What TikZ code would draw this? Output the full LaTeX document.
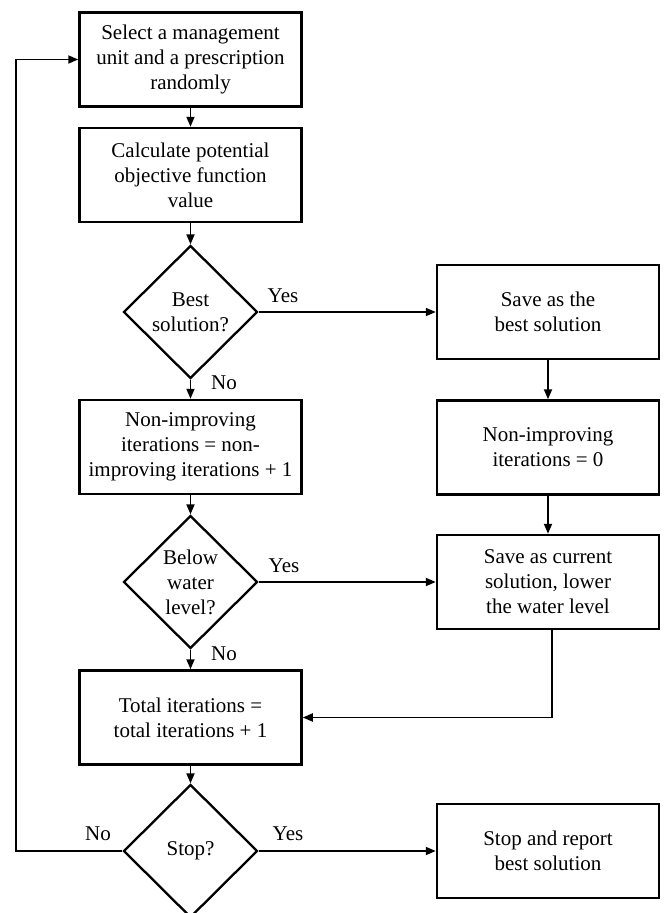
\documentclass[tikz,border=0pt]{standalone}
\usepackage{fontspec}
\setmainfont{Liberation Serif}
\usetikzlibrary{shapes.geometric,arrows.meta}
\begin{document}
\begin{tikzpicture}[x=1pt,y=-1pt,
  txt/.style={font=\fontsize{21}{25}\selectfont},
  box/.style={txt, draw, line width=2.5pt, rectangle, minimum width=222pt, minimum height=94pt, align=center, inner sep=0pt},
  dec/.style={txt, draw, line width=2.3pt, diamond, aspect=1, minimum width=134pt, minimum height=133pt, inner sep=0pt, align=center},
  lbl/.style={txt, inner sep=0pt},
  conn/.style={line width=1.8pt, -{Triangle[length=10pt,width=8pt]}}]
\useasboundingbox (0,0) rectangle (665,913);

\node[box] (sel) at (190.5,59.5) {Select a management\\unit and a prescription\\randomly};
\node[box] (calc) at (190.5,175) {Calculate potential\\objective function\\value};
\node[dec] (best) at (190.5,312) {Best\\solution?};
\node[box] (saveb) at (548,312) {Save as the\\best solution};
\node[box] (ni) at (190.5,447) {Non-improving\\iterations = non-\\improving iterations + 1};
\node[box] (ni0) at (548,447.5) {Non-improving\\iterations = 0};
\node[dec] (below) at (190.5,582) {Below\\water\\level?};
\node[box] (savec) at (548,582) {Save as current\\solution, lower\\the water level};
\node[box] (tot) at (190.5,717.5) {Total iterations =\\total iterations + 1};
\node[dec] (stop) at (190.5,851) {Stop?};
\node[box] (rep) at (548,851) {Stop and report\\best solution};

\node[lbl] (y1) at (283,296) {Yes};
\node[lbl] (n1) at (224,383) {No};
\node[lbl] (y2) at (284,566) {Yes};
\node[lbl] (n2) at (224,654) {No};
\node[lbl] (n3) at (98,834) {No};
\node[lbl] (y3) at (288,834) {Yes};

\coordinate (lp) at (16,851);

\draw[conn] (sel) -- (calc);
\draw[conn] (calc) -- (best);
\draw[conn] (best) -- (saveb);
\draw[conn] (best) -- (ni);
\draw[conn] (saveb) -- (ni0);
\draw[conn] (ni0) -- (savec);
\draw[conn] (ni) -- (below);
\draw[conn] (below) -- (savec);
\draw[conn] (below) -- (tot);
\draw[conn] (tot) -- (stop);
\draw[conn] (stop) -- (rep);
\draw[conn] (stop.west) -- (lp) |- (sel.west);
\draw[conn] ([xshift=4pt]savec.south) |- (tot.east);
\end{tikzpicture}
\end{document}
